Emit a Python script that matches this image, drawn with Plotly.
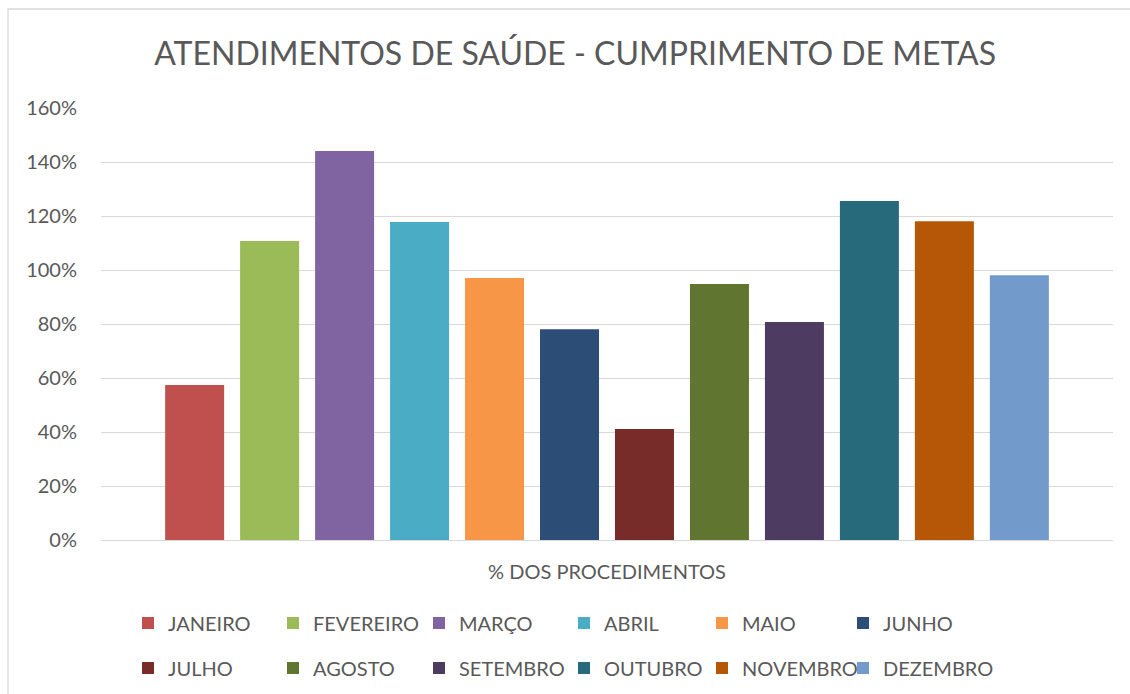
import plotly.graph_objects as go

meses = ["JANEIRO", "FEVEREIRO", "MARÇO", "ABRIL", "MAIO", "JUNHO",
         "JULHO", "AGOSTO", "SETEMBRO", "OUTUBRO", "NOVEMBRO", "DEZEMBRO"]
valores = [0.574, 1.107, 1.441, 1.178, 0.970, 0.781,
           0.411, 0.948, 0.807, 1.256, 1.181, 0.981]
cores = ["#C0504D", "#9BBB59", "#8064A2", "#4BACC6", "#F79646", "#2C4D75",
         "#772C2A", "#5F7530", "#4D3B62", "#276A7C", "#B65708", "#729ACA"]
categoria = ["% DOS PROCEDIMENTOS"]
y_ticks = [0, 0.2, 0.4, 0.6, 0.8, 1.0, 1.2, 1.4, 1.6]

FONT = "Lato, 'Open Sans', sans-serif"
TXT = "#595959"

PL, PR, PT, PB = 101, 17, 108, 154
PW = 1130 - PL - PR
PH = 694 - PT - PB

legend_ids = ["legend", "legend2", "legend3", "legend4", "legend5", "legend6"]
col_symbol_left = [148, 293, 439, 584, 722, 863]

fig = go.Figure()
for i, (m, v, c) in enumerate(zip(meses, valores, cores)):
    fig.add_trace(go.Bar(
        x=categoria, y=[v], name=m, marker=dict(color=c, line=dict(width=0)),
        legend=legend_ids[i % 6], legendgroup=m,
        hoverinfo="name+y",
    ))

legends = {}
for k, lid in enumerate(legend_ids):
    legends[lid] = dict(
        orientation="v", xanchor="left", yanchor="middle",
        x=(col_symbol_left[k] - 20 - PL) / PW, y=(540 - 645.5) / PH,
        font=dict(family=FONT, size=20, color=TXT),
        bgcolor="rgba(0,0,0,0)", traceorder="grouped", tracegroupgap=16,
        itemwidth=30,
    )

fig.update_layout(
    width=1130, height=694,
    margin=dict(l=PL, r=PR, t=PT, b=PB, autoexpand=False),
    paper_bgcolor="white", plot_bgcolor="white",
    barmode="group", bargap=0.111, bargroupgap=0.213,
    title=dict(text="ATENDIMENTOS DE SAÚDE - CUMPRIMENTO DE METAS",
               x=0.509, xref="container", xanchor="center",
               y=1 - 53.5 / 694, yref="container", yanchor="middle",
               font=dict(family=FONT, size=32, color=TXT)),
    font=dict(family=FONT, color=TXT),
    xaxis=dict(showgrid=False, showline=False, ticks="",
               tickfont=dict(family=FONT, size=20, color=TXT),
               ticklabelstandoff=18),
    yaxis=dict(range=[0, 1.6], tickvals=y_ticks, tickformat=".0%",
               showgrid=True, gridcolor="#D9D9D9", gridwidth=1.3,
               zeroline=True, zerolinecolor="#D9D9D9", zerolinewidth=1.3,
               showline=False, ticks="",
               tickfont=dict(family=FONT, size=20, color=TXT),
               ticklabelstandoff=23),
    shapes=[dict(type="rect", xref="paper", yref="paper",
                 x0=(8 - PL) / PW, x1=(1200 - PL) / PW,
                 y0=(540 - 800) / PH, y1=(540 - 9) / PH,
                 line=dict(color="#D9D9D9", width=1.3), fillcolor="rgba(0,0,0,0)",
                 layer="below")],
    **legends,
)

fig.write_html("out.html", config={"displayModeBar": False},
               post_script="document.body.style.margin='0px';")
